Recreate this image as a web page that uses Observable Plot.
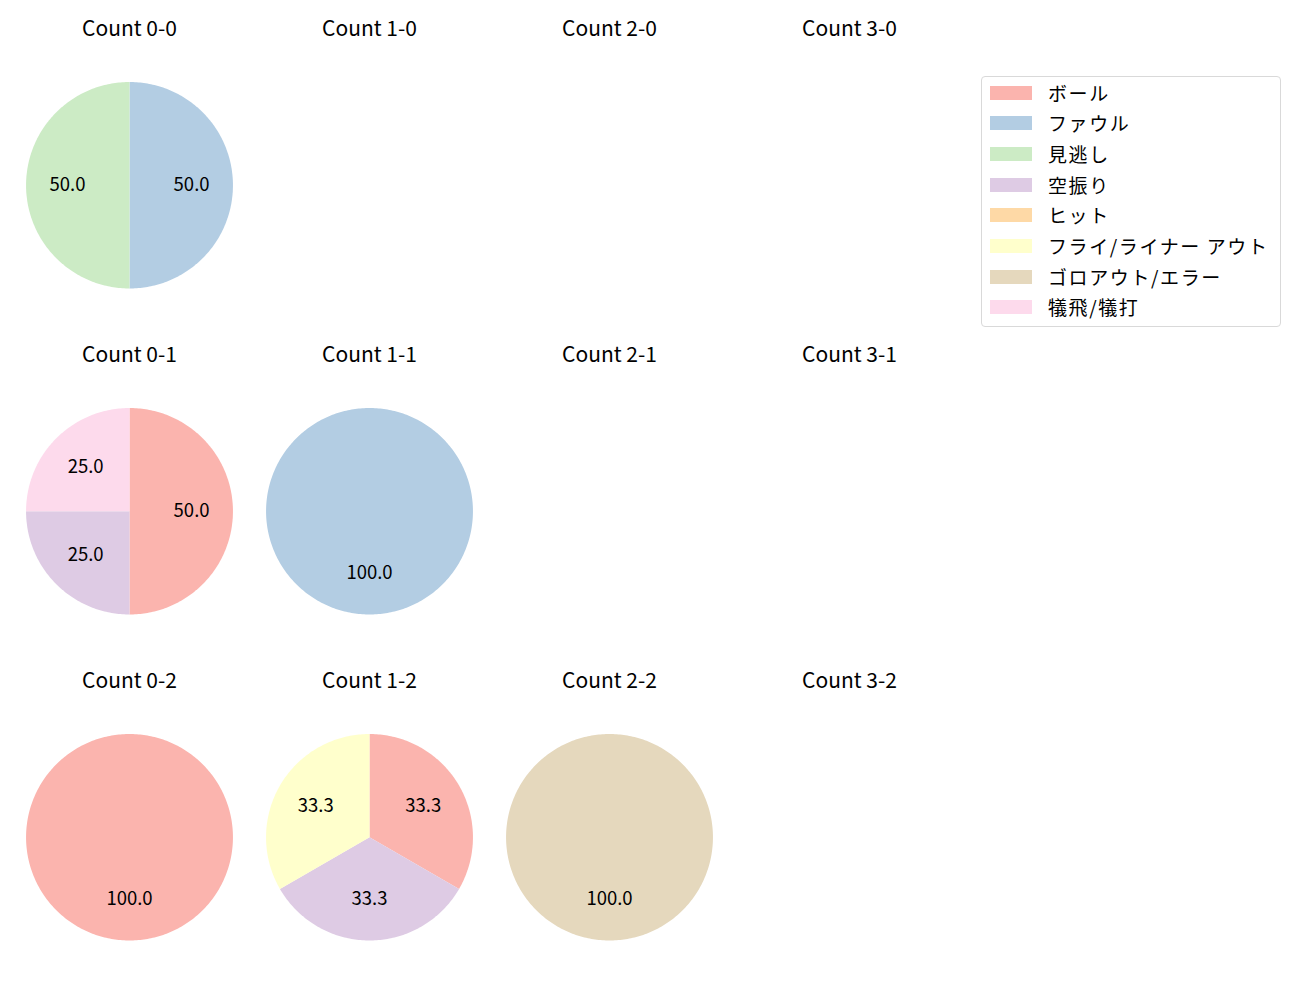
<!DOCTYPE html>
<html>
<head>
<meta charset="utf-8">
<script src="https://cdn.jsdelivr.net/npm/d3@7"></script>
<script src="https://cdn.jsdelivr.net/npm/@observablehq/plot@0.6"></script>
<style>
  body { margin: 0; background: #fff; font-family: "Noto Sans CJK JP", "Noto Sans", sans-serif; }
  #wrap { position: relative; width: 1300px; height: 1000px; }
  #legend { position: absolute; left: 981px; top: 76px; width: 298px; height: 249px;
    border: 1px solid #d9d9d9; border-radius: 4px; box-sizing: content-box; }
  .sw { position: absolute; left: 8px; width: 42px; height: 14px; }
  .lb { position: absolute; left: 66px; white-space: nowrap; font-size: 19px; color: #000; line-height: 22px; letter-spacing: 1.6px; }
</style>
</head>
<body>
<div id="wrap"><div id="chart"></div><div id="legend"></div></div>
<script>
// ---- data ----
const categories = ["ボール", "ファウル", "見逃し", "空振り", "ヒット", "フライ/ライナー アウト", "ゴロアウト/エラー", "犠飛/犠打"];
const palette = ["#fbb4ae", "#b3cde3", "#ccebc5", "#decbe4", "#fed9a6", "#ffffcc", "#e5d8bd", "#fddaec"];
const balls = [0, 1, 2, 3];
const strikes = [0, 1, 2];
// pitch outcome counts per count (ball-strike), in category order
const count00 = [0, 1, 1, 0, 0, 0, 0, 0];
const count10 = [0, 0, 0, 0, 0, 0, 0, 0];
const count20 = [0, 0, 0, 0, 0, 0, 0, 0];
const count30 = [0, 0, 0, 0, 0, 0, 0, 0];
const count01 = [2, 0, 0, 1, 0, 0, 0, 1];
const count11 = [0, 1, 0, 0, 0, 0, 0, 0];
const count21 = [0, 0, 0, 0, 0, 0, 0, 0];
const count31 = [0, 0, 0, 0, 0, 0, 0, 0];
const count02 = [1, 0, 0, 0, 0, 0, 0, 0];
const count12 = [1, 0, 0, 1, 0, 1, 0, 0];
const count22 = [0, 0, 0, 0, 0, 0, 1, 0];
const count32 = [0, 0, 0, 0, 0, 0, 0, 0];
const countValues = {
  "0-0": count00, "1-0": count10, "2-0": count20, "3-0": count30,
  "0-1": count01, "1-1": count11, "2-1": count21, "3-1": count31,
  "0-2": count02, "1-2": count12, "2-2": count22, "3-2": count32
};

// ---- build pie geometry (clockwise from top, like matplotlib startangle=90, counterclock=False) ----
const titles = [];
const slicePts = [];
const labels = [];
for (const s of strikes) {
  for (const b of balls) {
    const key = `${b}-${s}`;
    titles.push({b, s, text: `Count ${key}`});
    const vals = countValues[key];
    const total = d3.sum(vals);
    if (!total) continue;
    let acc = 0;
    vals.forEach((v, i) => {
      if (!v) return;
      const t0 = acc / total * 2 * Math.PI;
      acc += v;
      const t1 = acc / total * 2 * Math.PI;
      const id = `${key}-${i}`;
      slicePts.push({b, s, id, cat: categories[i], px: 0, py: 0});
      const n = Math.max(4, Math.ceil((t1 - t0) / (2 * Math.PI) * 360));
      for (let k = 0; k <= n; k++) {
        const t = t0 + (t1 - t0) * k / n;
        slicePts.push({b, s, id, cat: categories[i], px: Math.sin(t), py: Math.cos(t)});
      }
      const tm = (t0 + t1) / 2;
      labels.push({b, s, px: 0.6 * Math.sin(tm), py: 0.6 * Math.cos(tm), text: (v / total * 100).toFixed(1)});
    });
  }
}

const chart = Plot.plot({
  width: 1300,
  height: 1000,
  marginLeft: 9,
  marginRight: 331,
  marginTop: 8.5,
  marginBottom: 12,
  style: {fontFamily: "'Noto Sans CJK JP', 'Noto Sans', sans-serif", background: "#fff"},
  fx: {domain: balls, padding: 0, axis: null},
  fy: {domain: strikes, padding: 0, axis: null},
  x: {domain: [-1.16, 1.16], axis: null},
  y: {domain: [-1.455, 1.702], axis: null},
  color: {domain: categories, range: palette},
  marks: [
    Plot.line(slicePts, {fx: "b", fy: "s", x: "px", y: "py", z: "id", fill: "cat", stroke: null, curve: "linear"}),
    Plot.text(labels, {fx: "b", fy: "s", x: "px", y: "py", text: "text", fontSize: 18.5, fill: "#000", ariaLabel: "pct"}),
    Plot.text(titles, {fx: "b", fy: "s", text: "text", frameAnchor: "top", lineAnchor: "middle", dy: 19.5, fontSize: 21, fill: "#000", ariaLabel: "title"})
  ]
});
d3.select(chart).selectAll('g[aria-label="title"] text').style("letter-spacing", "0.8px");
document.getElementById("chart").appendChild(chart);

// ---- legend ----
const legend = document.getElementById("legend");
categories.forEach((c, i) => {
  const top = 15.5 + i * 30.7;
  const sw = document.createElement("div");
  sw.className = "sw";
  sw.style.top = (top - 7) + "px";
  sw.style.background = palette[i];
  legend.appendChild(sw);
  const lb = document.createElement("div");
  lb.className = "lb";
  lb.style.top = (top - 11) + "px";
  lb.textContent = c;
  legend.appendChild(lb);
});
</script>
</body>
</html>
